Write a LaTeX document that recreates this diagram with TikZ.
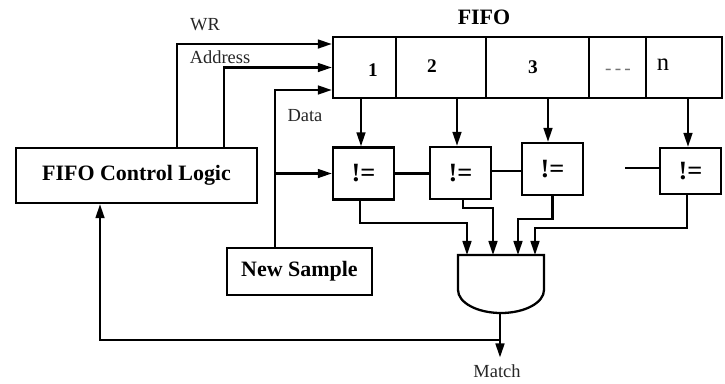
\documentclass[tikz,border=0pt]{standalone}
\usepackage{fontspec}
\setmainfont{Liberation Serif}
\usetikzlibrary{arrows.meta,positioning,calc}

\begin{document}
\begin{tikzpicture}[x=0.02cm, y=-0.02cm,
  line width=1.3pt,
  block/.style={draw, line width=1.3pt, inner sep=0pt,
                font=\fontsize{12.5}{15}\selectfont\bfseries},
  cell/.style={draw, line width=1.3pt, minimum height=1.22cm, inner sep=0pt},
  cmpbox/.style={draw, line width=1.3pt, minimum width=1.22cm,
                 minimum height=1.04cm, inner sep=0pt,
                 font=\fontsize{15}{17}\selectfont\bfseries},
  num/.style={font=\fontsize{11}{13}\selectfont\bfseries},
  sig/.style={font=\fontsize{10.5}{12}\selectfont, black!85},
  arr/.style={-{Triangle[length=8pt,width=5pt]}, line width=1.3pt},
  wire/.style={line width=1.3pt},
]
\useasboundingbox (0,0) rectangle (725,383);

% ============ FIFO cells ============
\node[font=\fontsize{12.5}{15}\selectfont\bfseries] (fifotitle) at (484,17) {FIFO};
\node[cell, minimum width=1.26cm] (cell1) at (364.5,67.5) {};
\node[cell, minimum width=1.80cm] (cell2) at (441,67.5) {};
\node[cell, minimum width=2.06cm] (cell3) at (537.5,67.5) {};
\node[cell, minimum width=1.14cm] (cell4) at (617.5,67.5) {};
\node[cell, minimum width=1.52cm] (celln) at (684,67.5) {};

\node[num] (lab1) at (373,70) {1};
\node[num] (lab2) at (432,66) {2};
\node[num] (lab3) at (533,67) {3};
\node[font=\fontsize{11}{13}\selectfont, black!55] (lab4) at (618,72) {-\,-\,-};
\node[font=\fontsize{14}{16}\selectfont] (labn) at (663,65) {n};

% ============ control and sample blocks ============
\node[block, minimum width=4.82cm, minimum height=1.1cm] (ctrl) at (136.5,175.5) {FIFO Control Logic};
\node[block, minimum width=2.9cm, minimum height=0.94cm] (news) at (299.5,271.5) {New Sample};

% ============ comparators ============
\node[cmpbox] (cmp1) at (363.5,173.5) {!=};
\node[cmpbox] (cmp2) at (460.5,173) {!=};
\node[cmpbox] (cmp3) at (552.5,169) {!=};
\node[cmpbox, minimum height=0.92cm] (cmpn) at (690.5,171) {!=};

\draw[wire] (cmp1.east) -- (cmp1.east -| cmp2.west);
\draw[wire] ([yshift=0.04cm]cmp2.east) -- ([yshift=0.04cm]cmp2.east -| cmp3.west);
\coordinate (stub) at (625,168);
\draw[wire] (stub) -- (stub -| cmpn.west);

% FIFO -> comparators
\draw[arr] ([xshift=-0.05cm]cmp1.north |- cell1.south) -- ([xshift=-0.05cm]cmp1.north);
\draw[arr] ([xshift=-0.07cm]cmp2.north |- cell2.south) -- ([xshift=-0.07cm]cmp2.north);
\draw[arr] ([xshift=-0.09cm]cmp3.north |- cell3.south) -- ([xshift=-0.09cm]cmp3.north);
\draw[arr] ([xshift=-0.05cm]cmpn.north |- celln.south) -- ([xshift=-0.05cm]cmpn.north);

% ============ control signals ============
\draw[arr] ([xshift=0.81cm]ctrl.north) |- ([yshift=0.47cm]cell1.west);
\node[sig] (wr) at (205,25) {WR};
\draw[arr] ([xshift=1.75cm]ctrl.north) |- (cell1.west);
\node[sig] (addr) at (220,57) {Address};
\coordinate (dtap) at ([xshift=-0.49cm]news.north);
\draw[arr] (dtap) |- ([yshift=-0.45cm]cell1.west);
\draw[arr] (dtap |- cmp1.west) -- (cmp1.west);
\node[sig] (data) at (305,116) {Data};

% ============ AND gate ============
\draw[wire] (458,255) -- (544,255) -- (544,290)
  arc[start angle=0, end angle=-180, x radius=0.86cm, y radius=0.46cm] -- cycle;
\coordinate (in1) at (467,255);
\coordinate (in2) at (493,255);
\coordinate (in3) at (518,255);
\coordinate (in4) at (535,255);
\coordinate (gout) at (500,313);

\draw[arr] ([xshift=-0.07cm]cmp1.south) -- ++(0,22) -| (in1);
\draw[arr] ([xshift=0.05cm]cmp2.south) -- ++(0,8) -| (in2);
\draw[arr] (cmp3.south) -- ++(0,23) -| (in3);
\draw[arr] ([xshift=-0.07cm]cmpn.south) -- ++(0,33) -| (in4);

% ============ output and feedback ============
\node[sig] (match) at (497,371) {Match};
\draw[arr] (gout) -- (gout |- match.north);
\coordinate (fb) at (500,340);
\draw[arr] (fb) -| ([xshift=-0.73cm]ctrl.south);

\end{tikzpicture}
\end{document}
